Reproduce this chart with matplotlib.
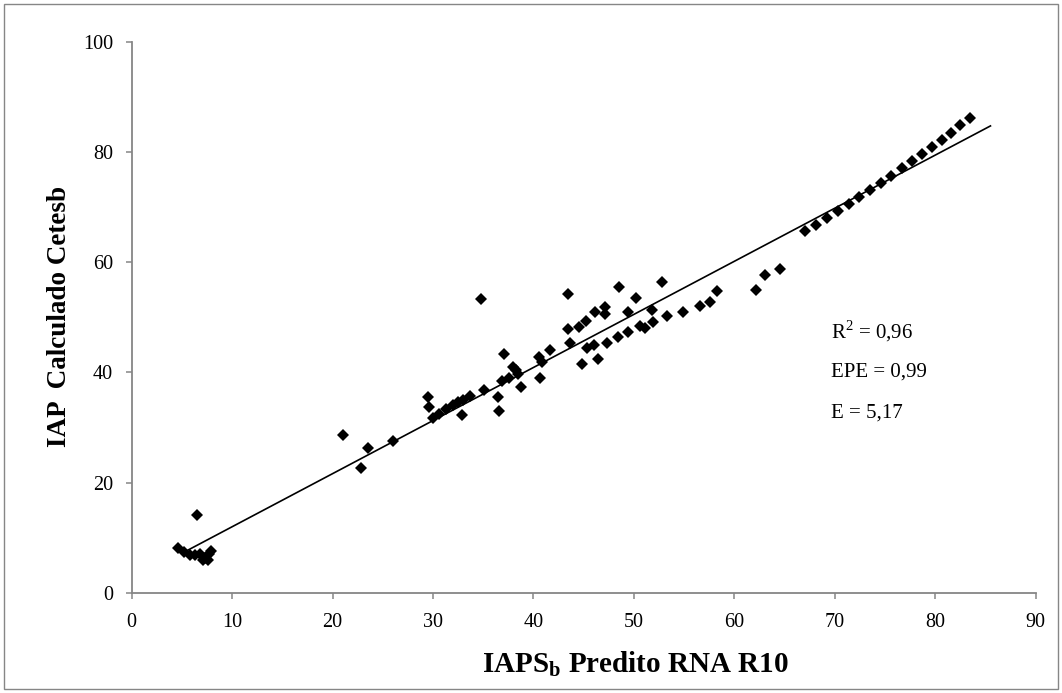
import matplotlib
matplotlib.use("Agg")
import matplotlib.pyplot as plt
from matplotlib.patches import Rectangle
import numpy as np

plt.rcParams['font.family'] = ['Liberation Serif', 'DejaVu Serif']
plt.rcParams['mathtext.fontset'] = 'custom'
plt.rcParams['mathtext.rm'] = 'Liberation Serif'
plt.rcParams['mathtext.bf'] = 'Liberation Serif:bold'

# Predicted (IAPS_b RNA R10) values
x_pred = [4.6, 5.2, 5.8, 6.3, 6.5, 6.8, 7.1, 7.3, 7.6, 7.7, 7.9,
          21.0, 22.8, 23.5, 26.0,
          29.5, 29.6, 30.0, 30.6, 31.3, 32.0, 32.5, 33.0, 32.9, 33.7, 34.8, 35.1,
          36.5, 36.6, 36.9, 37.1, 37.6, 38.0, 38.3, 38.5, 38.8,
          40.7, 40.6, 40.9, 41.6,
          43.4, 43.4, 43.6, 44.5, 44.8, 45.2, 45.3, 46.1, 46.0, 46.4, 47.1, 47.1, 47.3,
          48.5, 48.4, 49.4, 49.4, 50.2, 50.6, 51.1, 51.8, 51.9, 52.8, 53.3, 54.9, 56.6, 57.6, 58.3,
          62.2, 63.1, 64.5,
          67.0, 68.1, 69.2, 70.3, 71.4, 72.4, 73.5, 74.6, 75.6, 76.7, 77.7, 78.7, 79.7, 80.7, 81.6, 82.5, 83.5]

# Calculated (IAP Cetesb) values
y_calc = [8.1, 7.4, 6.9, 6.8, 14.2, 7.1, 5.9, 6.3, 6.0, 7.0, 7.5,
          28.7, 22.6, 26.2, 27.6,
          35.6, 33.8, 31.8, 32.5, 33.3, 34.0, 34.6, 35.0, 32.3, 35.8, 53.4, 36.8,
          35.5, 33.0, 38.4, 43.3, 39.0, 41.0, 40.5, 39.8, 37.3,
          39.0, 42.8, 41.9, 44.1,
          54.2, 47.9, 45.3, 48.3, 41.6, 49.4, 44.4, 50.9, 45.0, 42.4, 51.9, 50.7, 45.4,
          55.5, 46.5, 47.4, 51.0, 53.6, 48.5, 48.0, 51.3, 49.2, 56.5, 50.2, 51.0, 52.1, 52.7, 54.7,
          55.0, 57.7, 58.7,
          65.6, 66.8, 68.0, 69.3, 70.6, 71.8, 73.1, 74.4, 75.7, 77.1, 78.4, 79.7, 80.9, 82.2, 83.4, 84.9, 86.2]

# Linear trendline
trend_x = [5.0, 85.5]
trend_slope = 0.964
trend_intercept = 2.34

x_ticks = [0, 10, 20, 30, 40, 50, 60, 70, 80, 90]
y_ticks = [0, 20, 40, 60, 80, 100]

stats_lines = [r"R$^{2}$ = 0,96", "EPE = 0,99", "E = 5,17"]

fig = plt.figure(figsize=(10.62, 6.93), dpi=100)
ax = fig.add_axes([0.124, 0.1447, 0.8512, 0.7947])

grey = '#868686'

ax.plot(x_pred, y_calc, linestyle='none', marker='D', markersize=6.4,
        color='black', markeredgewidth=0, zorder=3)

tx = np.array(trend_x)
ax.plot(tx, trend_slope * tx + trend_intercept, color='black', linewidth=1.2, zorder=2)

ax.set_xlim(0, 90)
ax.set_ylim(0, 100)
ax.set_xticks(x_ticks)
ax.set_yticks(y_ticks)
ax.tick_params(axis='both', direction='out', length=4.5, width=1.1, color=grey,
               labelsize=14.5, labelcolor='black')
ax.tick_params(axis='x', pad=10)
ax.tick_params(axis='y', pad=9)

for s in ['top', 'right']:
    ax.spines[s].set_visible(False)
for s in ['left', 'bottom']:
    ax.spines[s].set_color(grey)
    ax.spines[s].set_linewidth(1.3)

fig.text(60 / 1062, 1 - 316 / 693, "IAP  Calculado Cetesb", fontsize=19.5,
         fontweight='bold', rotation=90, ha='center', va='center')
fig.text(636 / 1062, 1 - 664 / 693, r"IAPS$_{\mathbf{b}}$ Predito RNA R10",
         fontsize=21, fontweight='bold', ha='center', va='center')

for i, line in enumerate(stats_lines):
    fig.text(831 / 1062, 1 - (331 + 41 * i) / 693, line, fontsize=15,
             ha='left', va='center')

fig.patches.append(Rectangle((0.004, 0.006), 0.992, 0.988, transform=fig.transFigure,
                             fill=False, edgecolor=grey, linewidth=1.0))

fig.savefig("out.png", dpi=100)
